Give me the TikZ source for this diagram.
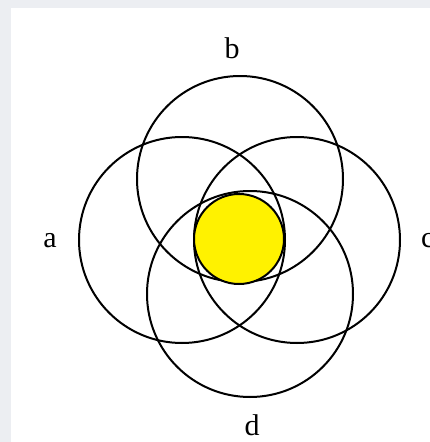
\documentclass[tikz,border=0pt]{standalone}
\usepackage{fontspec}
\setmainfont{Liberation Serif}
\usetikzlibrary{positioning}
\definecolor{framegray}{RGB}{236,238,242}

\begin{document}
\begin{tikzpicture}[
  x=1pt, y=-1pt,
  set/.style={circle, draw=black, line width=2pt, minimum size=206pt,
              inner sep=0pt},
  core/.style={circle, draw=black, line width=2pt, fill=yellow,
               minimum size=90pt, inner sep=0pt},
  tag/.style={font=\fontsize{30}{30}\selectfont, inner sep=0pt, anchor=base}
]
% Frame
\fill[framegray] (0,0) rectangle (430,442);
\fill[white] (11,8) rectangle (430,442);
\useasboundingbox (0,0) rectangle (430,442);

% Four sets
\node[set] (seta) at (182,240) {};
\node[set] (setb) at (240,179) {};
\node[set] (setc) at (297,240) {};
\node[set] (setd) at (250,294) {};

% Common part
\node[core] (common) at (239,239) {};

% Labels
\node[tag] (taga) at (50,247) {a};
\node[tag] (tagb) at (232,58) {b};
\node[tag, anchor=base west] (tagc) at (421,247) {c};
\node[tag] (tagd) at (252,435) {d};
\end{tikzpicture}
\end{document}
